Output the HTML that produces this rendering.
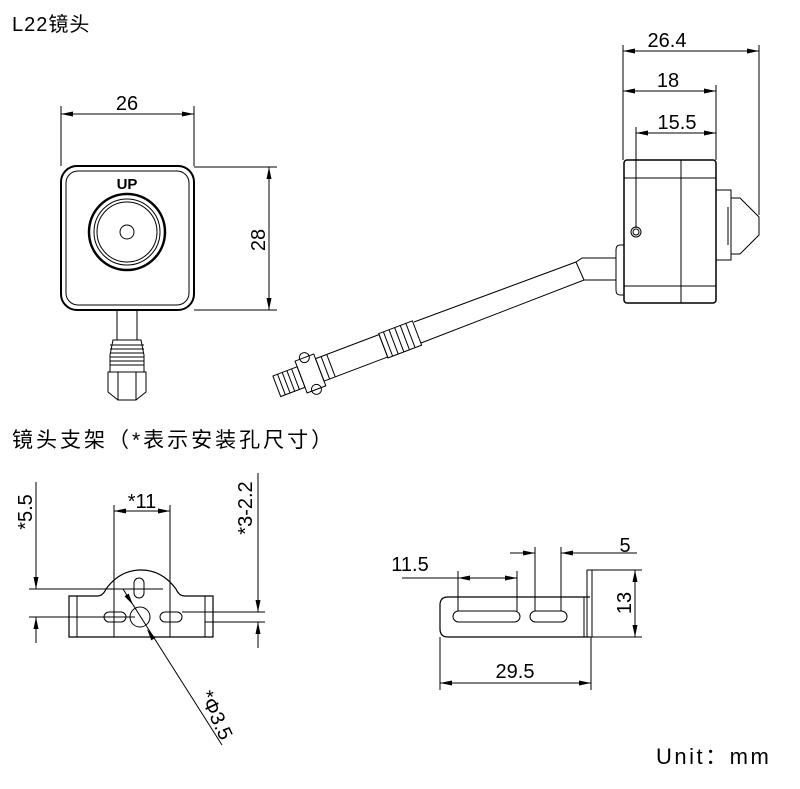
<!DOCTYPE html>
<html><head><meta charset="utf-8"><style>
body{margin:0;background:#fff;}
svg{display:block;font-family:"Liberation Sans","Noto Sans CJK SC",sans-serif;}
</style></head><body>
<svg width="800" height="789" viewBox="0 0 800 789" xmlns="http://www.w3.org/2000/svg">
<g fill="none" stroke="#000" stroke-width="1">
<!-- front view -->
<rect x="61" y="166" width="133" height="144" rx="16" stroke-width="2"/>
<rect x="66" y="171" width="123" height="134" rx="12"/>
<circle cx="127" cy="232" r="38" stroke-width="2.5"/>
<circle cx="127" cy="232" r="33"/>
<circle cx="127" cy="232" r="30"/>
<circle cx="127" cy="232" r="7"/>
<line x1="61" y1="106" x2="61" y2="166"/><line x1="194" y1="106" x2="194" y2="166"/>
<line x1="61" y1="114" x2="194" y2="114"/>
<line x1="194" y1="167" x2="277" y2="167"/><line x1="194" y1="310" x2="277" y2="310"/>
<line x1="269" y1="167" x2="269" y2="310"/>
<rect x="117" y="310" width="20" height="30"/>
<path d="M113,340 L141,340 L144,355 L144,372 L110,372 L110,355 Z"/>
<path d="M110,345H144M110,349H144M110,353H144M110,357H144M110,361H144M110,365H144"/>
<path d="M108,372 L146,372 L146,392 L136,400 L118,400 L108,392 Z"/>
<path d="M118,372V400M136,372V400"/>
<!-- side view -->
<rect x="624" y="160" width="92" height="143" rx="3" stroke-width="1.5"/>
<line x1="681" y1="160" x2="681" y2="303"/>
<line x1="624" y1="178" x2="716" y2="178"/><line x1="624" y1="286" x2="716" y2="286"/>
<path d="M624,245 L620,245 Q616,245 616,250 L616,290 Q616,295 620,295 L624,295"/>
<rect x="716" y="190" width="15" height="70"/>
<path d="M731,198 L740,198 L759,217 L759,235 L740,254 L731,254"/>
<path d="M728,207V245M731,198V254"/>
<circle cx="636" cy="232" r="5"/><circle cx="636" cy="232" r="3"/>
<path d="M616,258 L582,258 L576,262 L414,322"/>
<path d="M616,280 L584,280 L421,343"/>
<path d="M576,262 L584,280"/>
<g transform="translate(417,333) rotate(159.2)">
<rect x="0" y="-13" width="36" height="26"/>
<path d="M7,-13V13M13,-13V13M19,-13V13M25,-13V13M31,-13V13"/>
<rect x="36" y="-12" width="68" height="24"/>
<path d="M92,-12V12M98,-12V12"/>
<rect x="104" y="-17" width="20" height="34"/>
<circle cx="114" cy="-17" r="5"/><circle cx="114" cy="17" r="5"/>
<rect x="124" y="-11" width="26" height="22"/>
<path d="M130,-11V11M135,-11V11M140,-11V11M145,-11V11"/>
</g>
<line x1="623" y1="45" x2="623" y2="160"/><line x1="759" y1="45" x2="759" y2="215"/>
<line x1="716" y1="85" x2="716" y2="160"/><line x1="636" y1="127" x2="636" y2="228"/>
<line x1="623" y1="51" x2="759" y2="51"/>
<line x1="623" y1="91" x2="716" y2="91"/>
<line x1="636" y1="133" x2="716" y2="133"/>
<!-- left bracket -->
<path d="M69,596 L97,596 Q103,596 106,589 Q120,570 141,570 Q162,570 176,589 Q179,596 185,596 L213,596 L213,637 L69,637 Z" stroke-width="1.2"/>
<line x1="77" y1="596" x2="77" y2="637"/><line x1="205" y1="596" x2="205" y2="637"/>
<rect x="134" y="578" width="10" height="20" rx="5"/>
<circle cx="140" cy="617" r="10"/>
<rect x="104" y="612" width="22" height="10" rx="5"/>
<rect x="160" y="612" width="22" height="10" rx="5"/>
<line x1="29" y1="589" x2="163" y2="589"/>
<line x1="29" y1="617" x2="135" y2="617"/>
<line x1="182" y1="612" x2="265" y2="612"/><line x1="205" y1="622" x2="265" y2="622"/>
<line x1="114" y1="505" x2="114" y2="637"/><line x1="170" y1="505" x2="170" y2="637"/>
<line x1="114" y1="511" x2="170" y2="511"/>
<line x1="36" y1="482" x2="36" y2="589"/>
<line x1="36" y1="617" x2="36" y2="643"/>
<line x1="258" y1="473" x2="258" y2="612"/>
<line x1="258" y1="622" x2="258" y2="648"/>
<line x1="123" y1="589" x2="222" y2="745"/>
<!-- right bracket -->
<path d="M590,597 L448,597 Q440,597 440,605 L440,629 Q440,637 448,637 L590,637" stroke-width="1.2"/>
<line x1="584" y1="597" x2="584" y2="637"/>
<rect x="587" y="570" width="5" height="67"/>
<rect x="453" y="611" width="67" height="11" rx="5.5"/>
<rect x="530" y="611" width="37" height="11" rx="5.5"/>
<line x1="458" y1="571" x2="458" y2="611"/><line x1="517" y1="571" x2="517" y2="611"/>
<line x1="402" y1="578" x2="517" y2="578"/>
<line x1="535" y1="547" x2="535" y2="611"/><line x1="561" y1="547" x2="561" y2="611"/>
<line x1="510" y1="553" x2="535" y2="553"/>
<line x1="637" y1="553" x2="561" y2="553"/>
<line x1="592" y1="570" x2="642" y2="570"/><line x1="592" y1="637" x2="642" y2="637"/>
<line x1="635" y1="570" x2="635" y2="637"/>
<line x1="440" y1="637" x2="440" y2="690"/><line x1="591" y1="637" x2="591" y2="690"/>
<line x1="440" y1="683" x2="591" y2="683"/>
</g>
<!-- arrowheads -->
<g fill="#000" stroke="none">
<polygon points="61,114 73,111.5 73,116.5"/><polygon points="194,114 182,111.5 182,116.5"/>
<polygon points="269,167 266.5,179 271.5,179"/><polygon points="269,310 266.5,298 271.5,298"/>
<polygon points="623,51 635,48.5 635,53.5"/><polygon points="759,51 747,48.5 747,53.5"/>
<polygon points="623,91 635,88.5 635,93.5"/><polygon points="716,91 704,88.5 704,93.5"/>
<polygon points="636,133 648,130.5 648,135.5"/><polygon points="716,133 704,130.5 704,135.5"/>
<polygon points="114,511 126,508.5 126,513.5"/><polygon points="170,511 158,508.5 158,513.5"/>
<polygon points="36,589 33.5,577 38.5,577"/><polygon points="36,617 33.5,629 38.5,629"/>
<polygon points="258,612 255.5,600 260.5,600"/><polygon points="258,622 255.5,634 260.5,634"/>
<polygon points="133,605 128.7,593.6 124.5,596.2"/><polygon points="147,629 155.5,637.8 151.3,640.4"/>
<polygon points="458,578 470,575.5 470,580.5"/><polygon points="517,578 505,575.5 505,580.5"/>
<polygon points="535,553 523,550.5 523,555.5"/><polygon points="561,553 573,550.5 573,555.5"/>
<polygon points="635,570 632.5,582 637.5,582"/><polygon points="635,637 632.5,625 637.5,625"/>
<polygon points="440,683 452,680.5 452,685.5"/><polygon points="591,683 579,680.5 579,685.5"/>
</g>
<g fill="#000" font-size="20">
<text x="12" y="31" font-size="20" letter-spacing="1">L22镜头</text>
<text x="127" y="189" font-size="15" font-weight="bold" text-anchor="middle">UP</text>
<text x="127" y="110" text-anchor="middle">26</text>
<text transform="translate(265,240) rotate(-90)" text-anchor="middle">28</text>
<text x="667" y="47" text-anchor="middle">26.4</text>
<text x="668" y="87" text-anchor="middle">18</text>
<text x="677" y="129" text-anchor="middle">15.5</text>
<text x="12" y="447" font-size="21" letter-spacing="3">镜头支架（*表示安装孔尺寸）</text>
<text x="142" y="508" text-anchor="middle">*11</text>
<text transform="translate(32,512) rotate(-90)" text-anchor="middle">*5.5</text>
<text transform="translate(252,508) rotate(-90)" text-anchor="middle">*3-2.2</text>
<text transform="translate(210,718) rotate(65)" text-anchor="middle">*Φ3.5</text>
<text x="410" y="571" text-anchor="middle">11.5</text>
<text x="625" y="552" text-anchor="middle">5</text>
<text transform="translate(631,603) rotate(-90)" text-anchor="middle">13</text>
<text x="515" y="678" text-anchor="middle">29.5</text>
<text x="656" y="764" font-size="22" letter-spacing="2.5">Unit：mm</text>
</g>
</svg>
</body></html>
